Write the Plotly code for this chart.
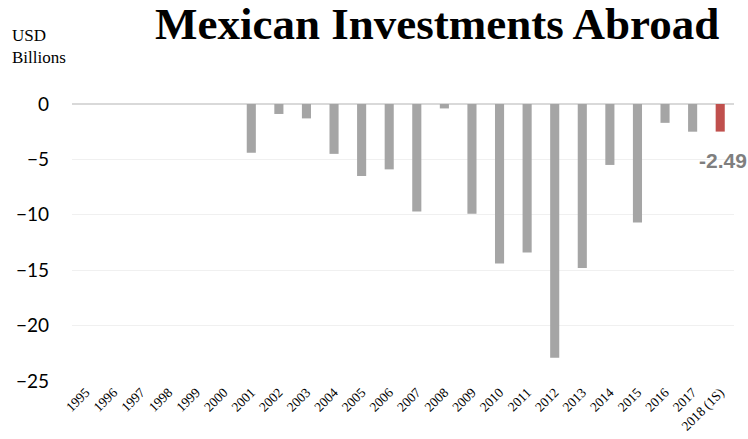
import plotly.graph_objects as go

# Mexican direct investment abroad, USD billions (2018 = first semester)
years = ["1995", "1996", "1997", "1998", "1999", "2000", "2001", "2002", "2003",
         "2004", "2005", "2006", "2007", "2008", "2009", "2010", "2011", "2012",
         "2013", "2014", "2015", "2016", "2017", "2018 (1S)"]
flows = [None, None, None, None, None, None, -4.4, -0.9, -1.3,
         -4.5, -6.5, -5.9, -9.7, -0.4, -9.9, -14.4, -13.4, -22.9,
         -14.8, -5.5, -10.7, -1.7, -2.5, -2.49]
highlight_year = "2018 (1S)"
y_ticks = [0, -5, -10, -15, -20, -25]

GREY = "#a5a5a5"
RED = "#c0504d"
colors = [RED if y == highlight_year else GREY for y in years]
last_value = flows[years.index(highlight_year)]

fig = go.Figure(
    go.Bar(x=years, y=flows, marker=dict(color=colors, line=dict(width=0)),
           hoverinfo="x+y")
)

fig.update_layout(
    width=748, height=439,
    margin=dict(l=72, r=14, t=104, b=58, autoexpand=False),
    paper_bgcolor="white", plot_bgcolor="white",
    bargap=0.67,
    showlegend=False,
    title=dict(
        text="<b>Mexican Investments Abroad</b>",
        font=dict(family="Liberation Serif", size=45, color="black"),
        x=155 / 748, xanchor="left", xref="container",
        y=1 - 23 / 439, yanchor="middle", yref="container",
    ),
    annotations=[
        dict(text="USD<br>Billions", xref="paper", yref="paper",
             x=-62 / 662, y=1 + 80 / 277, xanchor="left", yanchor="top",
             align="left", showarrow=False,
             font=dict(family="Liberation Serif", size=17, color="black")),
        dict(text=f"<b>{last_value:.2f}</b>", x=highlight_year, y=last_value,
             xref="x", yref="y", xanchor="center", yanchor="top",
             yshift=-15, xshift=3, showarrow=False,
             font=dict(family="Liberation Sans", size=21, color="#7f7f7f")),
    ],
)

fig.update_xaxes(
    type="category", range=[-0.5, len(years) - 0.5], tickangle=-45,
    showgrid=False, showline=False, ticks="", zeroline=False, automargin=False,
    tickfont=dict(family="Liberation Serif", size=13.5, color="black"),
)
fig.update_yaxes(
    range=[-25, 0], tickvals=y_ticks, showgrid=True, gridcolor="#f0f0f0",
    gridwidth=1, zeroline=True, zerolinecolor="#d9d9d9", zerolinewidth=2,
    showline=False, ticks="", ticklabelstandoff=22, automargin=False,
    tickfont=dict(family="Lato", size=19, color="black"),
)

fig.write_html("out.html")
